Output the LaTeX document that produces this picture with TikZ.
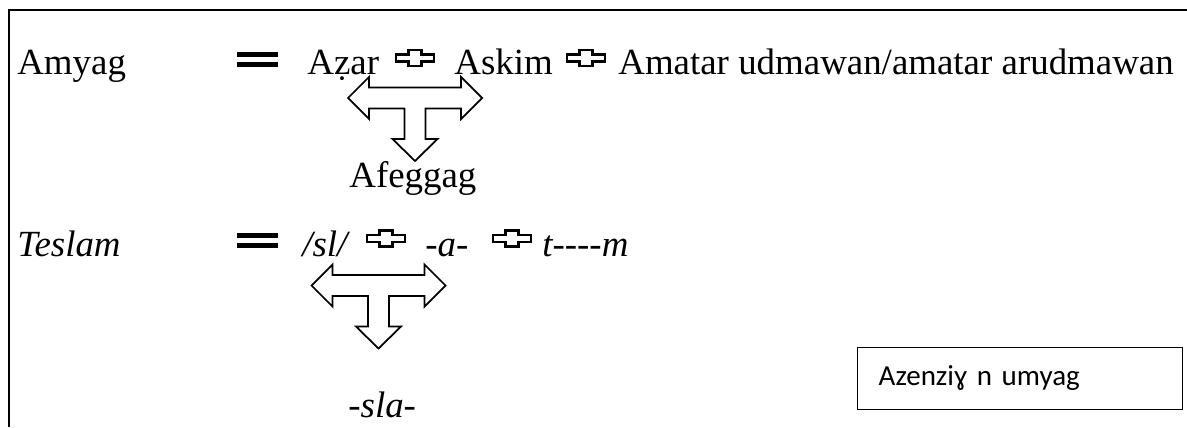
\documentclass[tikz,border=0pt]{standalone}
\usepackage{fontspec}
\setmainfont{Liberation Serif}
\newfontfamily\boxfont{Carlito}
\tikzset{
  wort/.style={anchor=base west, inner sep=0pt},
  tpfeil/.pic={
    \draw[line width=1pt, line join=miter] (-1.34,0) -- (-0.92,0.42) -- (-0.92,0.21) -- (0.92,0.21)
      -- (0.92,0.42) -- (1.34,0) -- (0.92,-0.42) -- (0.92,-0.21) -- (0.21,-0.21) -- (0.21,-0.82)
      -- (0.45,-0.82) -- (0,-1.26) -- (-0.45,-0.82) -- (-0.21,-0.82) -- (-0.21,-0.21)
      -- (-0.92,-0.21) -- (-0.92,-0.42) -- cycle;
  },
  pluszeichen/.pic={
    \draw[line width=1.2pt, fill=white] (-0.38,-0.07) -- (-0.13,-0.07) -- (-0.13,-0.16) -- (0.13,-0.16)
      -- (0.13,-0.07) -- (0.38,-0.07) -- (0.38,0.07) -- (0.13,0.07) -- (0.13,0.16) -- (-0.13,0.16)
      -- (-0.13,0.07) -- (-0.38,0.07) -- cycle;
  },
  gleich/.pic={
    \fill (-0.41,0.05) rectangle (0.41,0.15);
    \fill (-0.41,-0.15) rectangle (0.41,-0.05);
  }
}
\begin{document}
\begin{tikzpicture}[font=\fontsize{21}{25}\selectfont]
    \useasboundingbox (0,0) rectangle (23.74,8.54);
    % Rahmen (oben und links)
    \draw[line width=1.2pt] (23.74,8.34) -- (0.18,8.34) -- (0.18,0);

    % erste Zeile
    \node[wort] (amyag) at (0.34,7.04) {Amyag};
    \pic at (5.15,7.35) {gleich};
    \node[wort] (azar) at (6.14,7.04) {Aẓar};
    \pic at (8.30,7.38) {pluszeichen};
    \node[wort] (askim) at (9.08,7.04) {Askim};
    \pic at (11.72,7.38) {pluszeichen};
    \node[wort] (amatar) at (12.36,7.04) {Amatar udmawan/amatar arudmawan};

    \pic at (8.30,6.58) {tpfeil};
    \node[wort] (afeggag) at (6.98,4.80) {Afeggag};

    % zweite Zeile
    \node[wort] (teslam) at (0.34,3.42) {\textit{Teslam}};
    \pic at (5.15,3.74) {gleich};
    \node[wort] (sl) at (6.04,3.42) {\textit{/sl/}};
    \pic at (7.72,3.77) {pluszeichen};
    \node[wort] (a) at (8.50,3.42) {\textit{-a-}};
    \pic at (10.24,3.77) {pluszeichen};
    \node[wort] (tm) at (10.84,3.42) {\textit{t-{}-{}-{}-m}};

    \pic at (7.57,2.83) {tpfeil};
    \node[wort] (sla) at (6.96,0.20) {\textit{-sla-}};

    % Kasten unten rechts
    \node[draw, line width=0.8pt, anchor=south west, minimum height=1.24cm, inner xsep=0.42cm,
      text width=5.66cm, align=left, font=\boxfont\fontsize{16.5}{19}\selectfont] (box) at (17.14,0.34) {Azenziɣ n umyag};
\end{tikzpicture}
\end{document}
